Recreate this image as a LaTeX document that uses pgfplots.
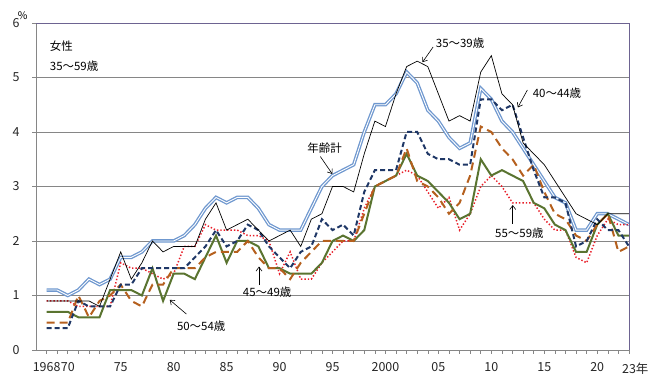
\documentclass[border=0pt]{standalone}
\usepackage{fontspec}
\setmainfont{Noto Sans CJK JP}
\usepackage{pgfplots}
\pgfplotsset{compat=1.18}
\usepackage{pgfplotstable}
\usetikzlibrary{arrows.meta}
\definecolor{cTot}{HTML}{6F98CF}
\definecolor{cNavy}{HTML}{1F3766}
\definecolor{cBrown}{HTML}{B5601E}
\definecolor{cOlive}{HTML}{5A7430}
\definecolor{cRed}{HTML}{E8202A}
\definecolor{axgray}{HTML}{868686}
\definecolor{frame}{HTML}{6D6391}

\pgfplotstableread{
year tot a35 a40 a45 a50 a55
1968 1.1 0.9 0.4 0.5 0.7 0.9
1969 1.1 0.9 0.4 0.5 0.7 0.9
1970 1.0 0.9 0.4 0.5 0.7 0.9
1971 1.1 0.9 0.9 1.0 0.6 0.8
1972 1.3 0.9 0.8 0.6 0.6 0.8
1973 1.2 0.8 0.8 0.9 0.6 0.8
1974 1.3 1.3 0.8 1.0 1.1 0.8
1975 1.7 1.8 1.2 1.2 1.1 1.6
1976 1.7 1.3 1.2 0.9 1.1 1.5
1977 1.8 1.6 1.5 0.8 1.0 1.5
1978 2.0 2.0 1.5 1.2 1.5 1.4
1979 2.0 1.8 1.5 1.2 0.9 1.3
1980 2.0 1.9 1.5 1.5 1.4 1.4
1981 2.1 1.9 1.5 1.5 1.4 1.9
1982 2.3 1.9 1.7 1.5 1.3 1.9
1983 2.6 2.4 1.9 1.7 1.7 2.3
1984 2.8 2.7 2.2 1.8 2.1 2.2
1985 2.7 2.2 1.9 1.8 1.6 2.2
1986 2.8 2.3 2.0 1.8 2.0 2.2
1987 2.8 2.4 2.3 2.0 2.0 2.1
1988 2.6 2.2 2.2 1.7 1.9 2.1
1989 2.3 2.0 1.9 1.5 1.5 2.0
1990 2.2 2.1 1.7 1.5 1.5 1.4
1991 2.2 2.2 1.5 1.3 1.4 1.8
1992 2.2 1.9 1.8 1.6 1.4 1.3
1993 2.6 2.4 1.9 1.8 1.4 1.3
1994 3.0 2.5 2.4 2.0 1.6 1.6
1995 3.2 3.0 2.2 2.0 2.0 1.8
1996 3.3 3.0 2.3 2.0 2.1 2.0
1997 3.4 2.9 2.1 2.0 2.0 2.0
1998 4.0 3.6 2.9 2.5 2.2 2.6
1999 4.5 4.2 3.3 3.0 3.0 3.0
2000 4.5 4.1 3.3 3.1 3.1 3.1
2001 4.7 4.7 3.3 3.2 3.2 3.2
2002 5.1 5.2 4.0 3.7 3.6 3.3
2003 4.9 5.3 4.0 3.1 3.2 3.2
2004 4.4 5.2 3.6 3.0 3.1 2.9
2005 4.2 4.7 3.5 2.8 2.9 2.6
2006 3.9 4.2 3.5 2.5 2.7 2.8
2007 3.7 4.3 3.4 2.7 2.4 2.2
2008 3.8 4.2 3.4 3.2 2.5 2.5
2009 4.8 5.1 4.6 4.1 3.5 3.0
2010 4.6 5.4 4.6 4.0 3.2 3.2
2011 4.2 4.7 4.4 3.7 3.3 3.0
2012 4.0 4.5 4.5 3.5 3.2 2.7
2013 3.7 3.8 3.9 3.2 3.1 2.7
2014 3.4 3.6 3.3 3.4 2.7 2.7
2015 3.1 3.4 2.8 2.9 2.6 2.4
2016 2.8 3.1 2.8 2.5 2.3 2.2
2017 2.7 2.8 2.7 2.4 2.2 2.2
2018 2.2 2.5 1.9 2.1 1.8 1.7
2019 2.2 2.4 2.0 2.0 1.8 1.6
2020 2.5 2.3 2.4 2.3 2.3 2.1
2021 2.5 2.5 2.2 2.5 2.5 2.4
2022 2.4 2.5 2.2 1.8 2.1 2.3
2023 2.3 2.5 1.9 1.9 2.1 2.3
}\data

\begin{document}
\begin{tikzpicture}[font=\fontsize{11.5}{13.8}\selectfont]
\path[use as bounding box] (0,0) rectangle (652bp,383bp);
\begin{axis}[
  at={(36bp,33bp)}, anchor=south west,
  scale only axis, width=593bp, height=327bp,
  xmin=1967, xmax=2023, ymin=0, ymax=6,
  clip=false,
  axis x line*=bottom, axis y line*=left,
  axis line style={draw=axgray, line width=0.8bp},
  ytick={0,1,2,3,4,5,6},
  ymajorgrids, grid style={draw=axgray, line width=0.8bp},
  xtick={1968,1970,1975,1980,1985,1990,1995,2000,2005,2010,2015,2020,2023},
  xticklabels={1968,70,75,80,85,90,95,2000,05,10,15,20,23\rlap{年}},
  minor xtick={1969,1971,1972,1973,1974,1976,1977,1978,1979,1981,1982,1983,1984,1986,1987,1988,1989,1991,1992,1993,1994,1996,1997,1998,1999,2001,2002,2003,2004,2006,2007,2008,2009,2011,2012,2013,2014,2016,2017,2018,2019,2021,2022},
  tick align=outside, major tick length=4bp, minor tick length=4bp,
  tick style={draw=axgray, line width=0.6bp},
  /pgf/number format/assume math mode=true,
  ticklabel style={font=\fontsize{12.5}{14}\selectfont},
  xticklabel style={yshift=-5bp, text=black!85},
  yticklabel style={xshift=-9bp, text=black!85},
]
\addplot[draw=cTot, line width=1.3bp, double=white, double distance=0.9bp] table[x=year,y=tot]{\data};
\addplot[draw=cRed, line width=1.5bp, dash pattern=on 1.4bp off 2bp] table[x=year,y=a55]{\data};
\addplot[draw=cOlive, line width=2bp] table[x=year,y=a50]{\data};
\addplot[draw=cBrown, line width=2bp, dash pattern=on 8bp off 5bp] table[x=year,y=a45]{\data};
\addplot[draw=cNavy, line width=2bp, dash pattern=on 5bp off 3bp] table[x=year,y=a40]{\data};
\addplot[draw=black, line width=0.7bp] table[x=year,y=a35]{\data};

\draw[frame, line width=0.8bp] (rel axis cs:0,1) -- (rel axis cs:1,1) -- (rel axis cs:1,0);

\node[font=\fontsize{10.5}{12}\selectfont, inner sep=0] at (axis cs:1965.75,6.14) {\%};
\node[anchor=west, inner sep=0] at (axis cs:1968.3,5.58) {女性};
\node[anchor=west, inner sep=0] at (axis cs:1968.3,5.2) {35〜59歳};

\node[anchor=west, inner sep=0] at (axis cs:2004.75,5.63) {35〜39歳};
\draw[-{Straight Barb[length=4bp,width=6bp]}, line width=0.6bp] (axis cs:2004.5,5.56) -- (axis cs:2003.5,5.28);

\node[anchor=west, inner sep=0] at (axis cs:2013.9,4.71) {40〜44歳};
\draw[-{Straight Barb[length=4bp,width=6bp]}, line width=0.6bp] (axis cs:2013.4,4.77) -- (axis cs:2012.5,4.45);

\node[inner sep=0] at (axis cs:1994.25,3.70) {年齢計};
\draw[-{Straight Barb[length=4bp,width=6bp]}, line width=0.6bp] (axis cs:1993.85,3.55) -- (axis cs:1994.98,3.23);

\node[inner sep=0] at (axis cs:1988.83,1.06) {45〜49歳};
\draw[-{Straight Barb[length=4bp,width=6bp]}, line width=0.6bp] (axis cs:1988.06,1.19) -- (axis cs:1988.06,1.53);

\node[inner sep=0] at (axis cs:1982.6,0.44) {50〜54歳};
\draw[-{Straight Barb[length=4bp,width=6bp]}, line width=0.6bp] (axis cs:1981.2,0.66) -- (axis cs:1979.63,0.92);

\node[inner sep=0] at (axis cs:2012.65,2.14) {55〜59歳};
\draw[-{Straight Barb[length=4bp,width=6bp]}, line width=0.6bp] (axis cs:2012.02,2.32) -- (axis cs:2012.02,2.66);
\end{axis}
\end{tikzpicture}
\end{document}
